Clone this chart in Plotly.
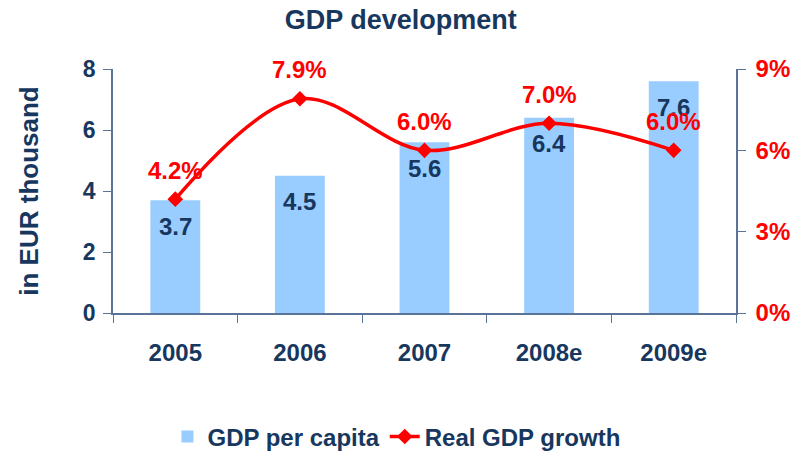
import plotly.graph_objects as go

years = ["2005", "2006", "2007", "2008e", "2009e"]
gdp_per_capita = [3.7, 4.5, 5.6, 6.4, 7.6]
real_growth = [4.2, 7.9, 6.0, 7.0, 6.0]
left_ticks = [0, 2, 4, 6, 8]
right_ticks = [0, 3, 6, 9]
right_tick_labels = ["0%", "3%", "6%", "9%"]

NAVY = "#17375E"
RED = "#FF0000"
AXIS = "#5A7399"
FONT = "Arial, Liberation Sans, sans-serif"

fig = go.Figure()
fig.add_trace(go.Bar(
    x=years, y=gdp_per_capita, name="GDP per capita",
    marker=dict(color="#99CCFF", line=dict(width=0)), width=0.4,
))
fig.add_trace(go.Scatter(
    x=years, y=real_growth, name="Real GDP growth", yaxis="y2",
    mode="lines+markers",
    line=dict(color=RED, width=3.5, shape="spline", smoothing=1.0),
    marker=dict(symbol="diamond", size=12, color=RED),
))

ann = []
for i, v in enumerate(gdp_per_capita):
    ann.append(dict(x=i, y=v, xref="x", yref="y", text=f"{v:.1f}", showarrow=False,
                    yshift=-26, font=dict(family=FONT, size=24, color=NAVY, weight="bold")))
for i, v in enumerate(real_growth):
    ann.append(dict(x=i, y=v, xref="x", yref="y2", text=f"{v:.1f}%", showarrow=False,
                    yshift=29, font=dict(family=FONT, size=24, color=RED, weight="bold")))

fig.update_layout(
    width=796, height=455,
    margin=dict(l=113, r=60, t=69, b=142, autoexpand=False),
    paper_bgcolor="white", plot_bgcolor="white",
    font=dict(family=FONT, color=NAVY, size=24, weight="bold"),
    title=dict(text="<b>GDP development</b>", x=0.462, xref="paper", xanchor="center",
               y=0.958, yref="container", yanchor="middle",
               font=dict(family=FONT, size=27, color=NAVY)),
    showlegend=True,
    legend=dict(orientation="h", x=0.455, xanchor="center", y=-0.508, yanchor="middle",
                font=dict(family=FONT, size=24, color=NAVY, weight="bold"),
                bgcolor="rgba(0,0,0,0)", itemwidth=30, traceorder="normal"),
    xaxis=dict(type="category", range=[-0.5, 4.5], showline=True, linecolor=AXIS, linewidth=1.5,
               ticks="outside", tickson="boundaries", ticklen=8, tickcolor=AXIS,
               tickangle=0, automargin=False, ticklabelstandoff=17,
               tickfont=dict(family=FONT, size=24, color=NAVY, weight="bold"),
               showgrid=False, zeroline=False),
    yaxis=dict(range=[0, 8], tickvals=left_ticks, showline=True, linecolor=AXIS, linewidth=1.5,
               ticks="outside", ticklen=8, tickcolor=AXIS, showgrid=False, zeroline=False,
               automargin=False, ticklabelstandoff=3,
               tickfont=dict(family=FONT, size=23, color=NAVY, weight="bold"),
               title=dict(text="in EUR thousand", standoff=37,
                          font=dict(family=FONT, size=26, color=NAVY, weight="bold"))),
    yaxis2=dict(range=[0, 9], tickvals=right_ticks, ticktext=right_tick_labels,
                overlaying="y", side="right", automargin=False, ticklabelstandoff=5,
                showline=True, linecolor=AXIS, linewidth=1.5, ticks="outside", ticklen=8,
                tickcolor=AXIS, showgrid=False, zeroline=False,
                tickfont=dict(family=FONT, size=24, color=RED, weight="bold")),
    annotations=ann,
)

fig.write_html(
    "out.html",
    config={"displayModeBar": False},
    post_script="document.body.style.margin='0';document.body.style.overflow='hidden';",
)
